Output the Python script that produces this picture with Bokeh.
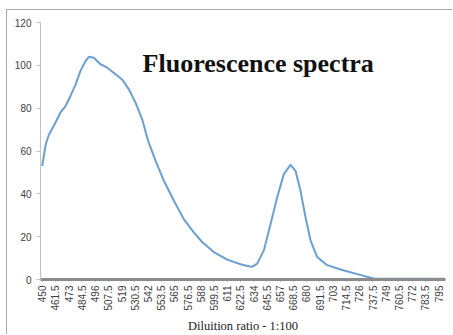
from bokeh.plotting import figure
from bokeh.models import FixedTicker, NumeralTickFormatter, Range1d, Label
from bokeh.embed import file_html
from bokeh.resources import INLINE
import math

# data
wavelength = [450, 451.5, 453, 455.7, 460.1, 465.9, 470.3, 474.6, 479, 483.3, 487.7,
              490.6, 494.9, 500.7, 506.6, 513.8, 519.6, 525.4, 531.2, 537, 542,
              548.6, 555.8, 564.5, 573.2, 581.9, 589.2, 599.3, 611, 622.6, 629.8,
              633, 637.1, 642.9, 648.8, 654.5, 660.3, 666.1, 670.5, 674.8, 679.2,
              683.5, 689.3, 698, 709.6, 724.2, 738.3, 750, 765, 780, 795, 800]
intensity = [53, 58, 63, 67.5, 71.8, 78, 81, 85.7, 91, 97.4, 102,
             104, 103.5, 100.5, 98.9, 95.8, 93.4, 88.8, 82.6, 74.8, 65,
             55.5, 46.2, 36.9, 28.2, 22, 17.5, 12.8, 9.3, 7.1, 6.2,
             6.0, 7.4, 13.6, 26, 38.4, 49.2, 53.5, 50.7, 41.4, 29,
             18.3, 10.5, 6.7, 4.7, 2.5, 0.5, 0.3, 0.3, 0.3, 0.3, 0.3]
x_ticks = [450 + 11.5 * i for i in range(31)]
y_ticks = [0, 20, 40, 60, 80, 100, 120]
title_text = "Fluorescence spectra"
x_label = "Diluition ratio - 1:100"

p = figure(width=446, height=325, output_backend="svg", toolbar_location=None,
           x_range=Range1d(448.5, 801), y_range=Range1d(0, 120),
           min_border_left=33, min_border_right=8, min_border_top=12, min_border_bottom=40)
p.styles = {"margin-left": "7px", "margin-top": "10px",
            "box-shadow": "-1px -1px 0px 0px #a8a8a8"}
p.outline_line_color = None
p.xgrid.visible = False
p.ygrid.visible = False

p.line(wavelength, intensity, line_color="#6a9fd4", line_width=2, line_join="round")

# x axis
xa = p.xaxis[0]
xa.ticker = FixedTicker(ticks=x_ticks)
xa.formatter = NumeralTickFormatter(format="0.[0]")
xa.major_label_orientation = math.pi / 2
xa.axis_line_color = "#8c8c8c"
xa.axis_line_width = 3
xa.major_tick_line_color = "#8c8c8c"
xa.major_tick_out = 2
xa.major_tick_in = 0
xa.minor_tick_line_color = None
xa.major_label_text_font = "Liberation Sans"
xa.major_label_text_font_size = "10px"
xa.major_label_text_color = "#404040"
xa.major_label_standoff = 4
xa.axis_label = x_label
xa.axis_label_text_font = "Liberation Serif"
xa.axis_label_text_font_style = "normal"
xa.axis_label_text_font_size = "12.5px"
xa.axis_label_text_color = "#222222"
xa.axis_label_standoff = 5

# y axis
ya = p.yaxis[0]
ya.ticker = FixedTicker(ticks=y_ticks)
ya.axis_line_color = "#c0c0c0"
ya.major_tick_line_color = "#c0c0c0"
ya.major_tick_out = 4
ya.major_tick_in = 0
ya.minor_tick_line_color = None
ya.major_label_text_font = "Liberation Sans"
ya.major_label_text_font_size = "10px"
ya.major_label_text_color = "#404040"
ya.major_label_standoff = 5

p.add_layout(Label(x=638, y=101, text=title_text, text_align="center",
                   text_baseline="middle", text_font="Liberation Serif",
                   text_font_style="bold", text_font_size="26px", text_color="#111111"))

open("out.html", "w").write(file_html(p, INLINE))
